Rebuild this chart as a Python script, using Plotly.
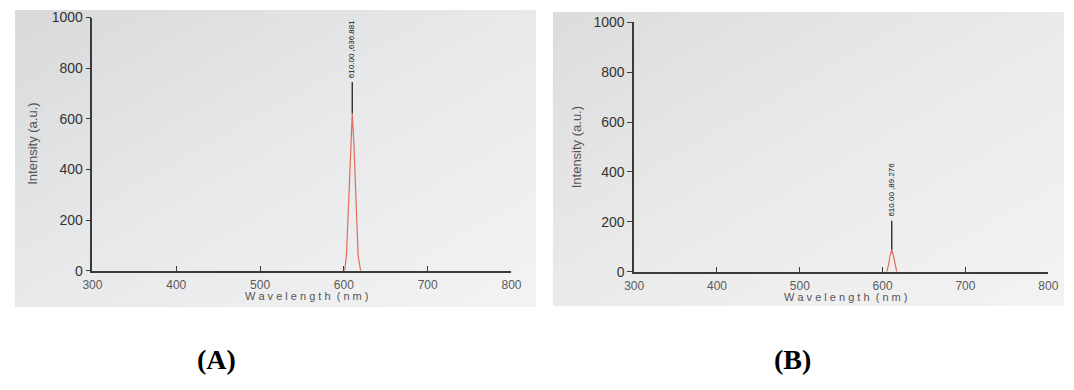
import plotly.graph_objects as go
import base64

# ---------------- data ----------------
wavelength_ticks = [300, 400, 500, 600, 700, 800]
intensity_ticks = [0, 200, 400, 600, 800, 1000]

# Spectrum A (emission band around 610 nm)
wl_a = [601, 603, 605, 608, 610, 612, 615, 617, 620]
int_a = [0, 60, 210, 500, 621, 500, 210, 60, 0]
peak_a_wl = 610
peak_a_int = 621
peak_a_marker_top = 746
peak_a_label = "610.00 ,636.881"

# Spectrum B
wl_b = [605, 607, 609, 611, 613, 615, 617]
int_b = [0, 25, 65, 88, 65, 25, 0]
peak_b_wl = 611
peak_b_int = 88
peak_b_marker_top = 204
peak_b_label = "610.00 ,89.276"

panel_labels = ["(A)", "(B)"]

W, H = 1074, 390


def px_x(p):
    return p / W


def px_y(p):
    return 1 - p / H


def grad_svg(c1, c2, c3):
    svg = (
        '<svg xmlns="http://www.w3.org/2000/svg" width="100" height="100" preserveAspectRatio="none">'
        '<defs><linearGradient id="g" x1="0" y1="0" x2="1" y2="1">'
        f'<stop offset="0" stop-color="{c1}"/><stop offset="0.5" stop-color="{c2}"/>'
        f'<stop offset="1" stop-color="{c3}"/></linearGradient></defs>'
        '<rect width="100" height="100" fill="url(#g)"/></svg>'
    )
    return "data:image/svg+xml;base64," + base64.b64encode(svg.encode()).decode()


fig = go.Figure()

red = "#e06a5c"
for (wl, it, pw, pi, pt, lab, xa, ya) in [
    (wl_a, int_a, peak_a_wl, peak_a_int, peak_a_marker_top, peak_a_label, "x", "y"),
    (wl_b, int_b, peak_b_wl, peak_b_int, peak_b_marker_top, peak_b_label, "x2", "y2"),
]:
    fig.add_trace(go.Scatter(x=wl, y=it, mode="lines", line=dict(color=red, width=1.2),
                             xaxis=xa, yaxis=ya, showlegend=False, hoverinfo="skip"))
    fig.add_trace(go.Scatter(x=[pw, pw], y=[pi, pt], mode="lines", line=dict(color="#222222", width=1.3),
                             xaxis=xa, yaxis=ya, showlegend=False, hoverinfo="skip"))
    fig.add_annotation(x=pw, y=pt, xref=xa, yref=ya, text=lab, textangle=-90, showarrow=False,
                       xanchor="center", yanchor="bottom", yshift=2,
                       font=dict(family="Liberation Sans Narrow, Arial Narrow, sans-serif", size=8, color="#111111"))

common = dict(showgrid=False, zeroline=False, showline=True, linecolor="#3a3a3a", linewidth=1.5,
              ticklen=5, tickwidth=1, tickcolor="#3a3a3a")
xfont = dict(family="Liberation Sans, Arial, sans-serif", size=12, color="#5a5a5a")
yfont = dict(family="Liberation Sans, Arial, sans-serif", size=14, color="#333333")

fig.update_layout(
    xaxis=dict(domain=[px_x(84), px_x(511)], range=[300, 800], tickvals=wavelength_ticks, ticks="inside",
               anchor="y", tickfont=xfont, ticklabelstandoff=2, **common),
    yaxis=dict(domain=[px_y(274), px_y(10)], range=[0, 1000], tickvals=intensity_ticks, ticks="outside",
               anchor="x", tickfont=yfont, **common),
    xaxis2=dict(domain=[px_x(636), px_x(1058)], range=[300, 800], tickvals=wavelength_ticks, ticks="inside",
                anchor="y2", tickfont=xfont, ticklabelstandoff=2, **common),
    yaxis2=dict(domain=[px_y(275), px_y(15)], range=[0, 1000], tickvals=intensity_ticks, ticks="outside",
                anchor="x2", tickfont=yfont, **common),
)

fig.update_layout(
    width=W, height=H, margin=dict(l=0, r=0, t=0, b=0),
    paper_bgcolor="white", plot_bgcolor="rgba(0,0,0,0)",
    images=[
        dict(source=grad_svg("#d8d9db", "#e8e9eb", "#f3f3f3"), xref="paper", yref="paper",
             x=px_x(5), y=px_y(2), sizex=px_x(536) - px_x(5), sizey=px_y(2) - px_y(312),
             sizing="stretch", layer="below", xanchor="left", yanchor="top"),
        dict(source=grad_svg("#dcdcdc", "#eaeaea", "#f3f3f3"), xref="paper", yref="paper",
             x=px_x(553), y=px_y(4), sizex=px_x(1074) - px_x(553), sizey=px_y(4) - px_y(311),
             sizing="stretch", layer="below", xanchor="left", yanchor="top"),
    ],
)

# axis titles
title_font = dict(family="Liberation Sans, Arial, sans-serif", size=11, color="#555555")
ytitle_font = dict(family="Liberation Sans Narrow, Arial Narrow, sans-serif", size=13, color="#555555")
for xp, yp in [(302, 300), (851, 301)]:
    fig.add_annotation(x=px_x(xp), y=px_y(yp), xref="paper", yref="paper",
                       text="W a v e l e n g t h  ( n m )", showarrow=False,
                       xanchor="center", yanchor="middle", font=title_font)
for xp, yp in [(23, 142), (577, 145)]:
    fig.add_annotation(x=px_x(xp), y=px_y(yp), xref="paper", yref="paper", text="Intensity (a.u.)",
                       textangle=-90, showarrow=False, xanchor="center", yanchor="middle", font=ytitle_font)

# panel labels
for lab, xp in zip(panel_labels, [210, 797]):
    fig.add_annotation(x=px_x(xp), y=px_y(367), xref="paper", yref="paper", text=f"<b>{lab}</b>",
                       showarrow=False, xanchor="center", yanchor="middle",
                       font=dict(family="Liberation Serif, Times New Roman, serif", size=28, color="#000000"))

fig.write_html("out.html")
